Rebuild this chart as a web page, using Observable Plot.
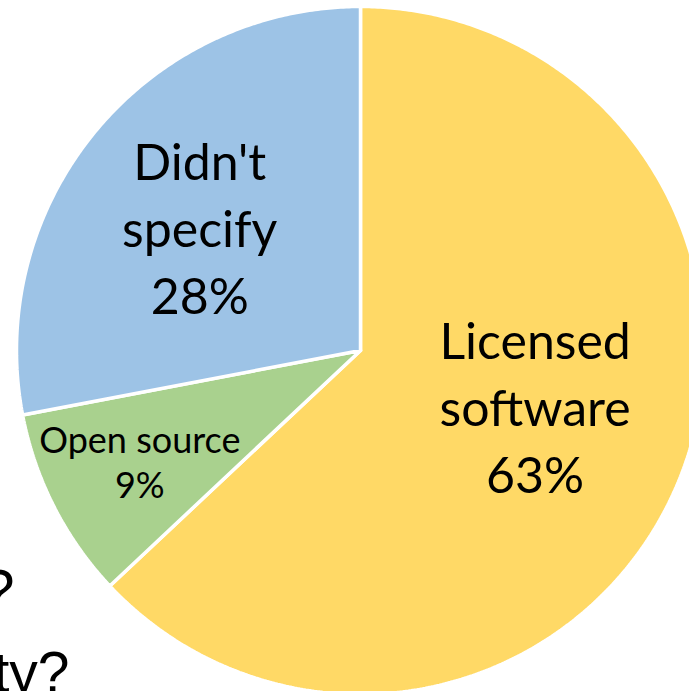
<!DOCTYPE html>
<html>
<head>
<meta charset="utf-8">
<script src="https://cdn.jsdelivr.net/npm/d3@7"></script>
<script src="https://cdn.jsdelivr.net/npm/@observablehq/plot@0.6"></script>
<style>
  html, body { margin: 0; padding: 0; background: #fff; overflow: hidden; }
</style>
</head>
<body>
<div id="chart"></div>
<script>
// Data
const categories = ["Licensed software", "Open source", "Didn't specify"];
const labels = ["Licensed\nsoftware\n63%", "Open source\n9%", "Didn't\nspecify\n28%"];
const shares = [63, 9, 28];
const colors = ["#FFD966", "#A9D18E", "#9DC3E6"];
const backgroundLines = ["?", "ty?"];

// Layout / style (not data)
const W = 689, H = 691, CX = 360, CY = 350, R = 344;
const labelStyle = {
  "Licensed software": {r: 0.55, dx: 1, dy: -21, size: 50, lh: 1.34},
  "Open source": {r: 0.72, dx: 0, dy: -2, size: 36, lh: 1.26},
  "Didn't specify": {r: 0.55, dx: -15, dy: -4, size: 50, lh: 1.34}
};

// Geometry derived from data
const total = d3.sum(shares);
let acc = 0;
const slices = shares.map((v, i) => {
  const a0 = acc / total * 2 * Math.PI;
  acc += v;
  const a1 = acc / total * 2 * Math.PI;
  return {cat: categories[i], label: labels[i], a0, a1};
});
const pts = [];
for (const s of slices) {
  pts.push({cat: s.cat, x: 0, y: 0});
  const n = Math.max(4, Math.ceil((s.a1 - s.a0) * 120));
  for (let k = 0; k <= n; k++) {
    const a = s.a0 + (s.a1 - s.a0) * k / n;
    pts.push({cat: s.cat, x: Math.sin(a), y: Math.cos(a)});
  }
  pts.push({cat: s.cat, x: 0, y: 0});
}
const labelMarks = slices.map(s => {
  const st = labelStyle[s.cat];
  const m = (s.a0 + s.a1) / 2;
  const d = {...s, x: st.r * Math.sin(m), y: st.r * Math.cos(m)};
  return Plot.text([d], {x: "x", y: "y", text: "label", dx: st.dx, dy: st.dy,
    fontSize: st.size, lineHeight: st.lh, fill: "black", lineAnchor: "middle", fontFamily: "Lato"});
});

const chart = Plot.plot({
  width: W, height: H, margin: 0,
  x: {domain: [-CX / R, (W - CX) / R], axis: null},
  y: {domain: [-(H - CY) / R, CY / R], axis: null},
  color: {domain: categories, range: colors},
  marks: [
    Plot.line(pts, {x: "x", y: "y", z: "cat", fill: "cat", stroke: "white", strokeWidth: 3.5, strokeLinejoin: "miter"}),
    ...labelMarks,
    Plot.text([backgroundLines[0]], {frameAnchor: "bottom-left", text: d => d, textAnchor: "end", lineAnchor: "bottom", dx: 14, dy: -81, fontSize: 60, fill: "black", fontFamily: "Liberation Sans"}),
    Plot.text([backgroundLines[1]], {frameAnchor: "bottom-left", text: d => d, textAnchor: "end", lineAnchor: "bottom", dx: 69, dy: 0, fontSize: 57, fill: "black", fontFamily: "Liberation Sans"})
  ]
});
document.getElementById("chart").appendChild(chart);
</script>
</body>
</html>
